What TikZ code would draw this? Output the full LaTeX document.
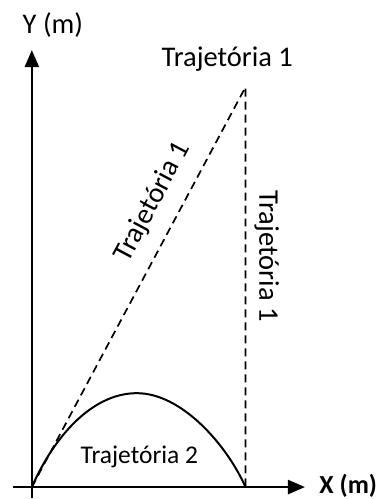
\documentclass[tikz,border=0pt]{standalone}
\usepackage{fontspec}
\setmainfont{Carlito}
\usetikzlibrary{arrows.meta}
\tikzset{
  axisline/.style ={line width=2.4pt,-{Triangle[length=17pt,width=14pt]}},
  traj/.style     ={line width=2pt},
  trajd/.style    ={line width=1.7pt,dash pattern=on 8pt off 5pt},
  lbl/.style      ={font=\fontsize{28.5}{34}\selectfont,inner sep=0pt},
  lbls/.style     ={font=\fontsize{25.5}{30}\selectfont,inner sep=0pt},
}
\begin{document}
\begin{tikzpicture}
  \useasboundingbox (-1.12,-0.42) rectangle (12.55,17.12);
  % points
  \coordinate (o)    at (0,0);
  \coordinate (xs)   at (-0.67,0);
  \coordinate (xe)   at (9.60,0);
  \coordinate (ys)   at (0,-0.39);
  \coordinate (ye)   at (0,15.36);
  \coordinate (top)  at (7.51,14.06);
  \coordinate (foot) at (7.51,0);
  \coordinate (peak) at (3.69,3.30);

  % trajectory 1 (dashed)
  \draw[trajd] (o) -- (top) -- (foot);
  % trajectory 2
  \draw[traj] (o) .. controls (0.77,1.76) and (2.11,3.30) .. (peak)
    .. controls (5.27,3.30) and (6.85,1.48) .. (foot);

  % axes
  \draw[axisline] (xs) -- (xe);
  \draw[axisline] (ys) -- (ye);

  \node[lbl,anchor=base] (ylab) at (0.74,15.95) {Y (m)};
  \node[lbl,anchor=base,font=\fontsize{26}{30}\selectfont\bfseries] (xlab) at (11.12,-0.21) {X (m)};
  \node[lbl,anchor=base] (t1top) at (6.87,14.77) {Trajetória 1};
  \node[lbl,rotate=62]  (t1diag) at (4.25,10.02) {Trajetória 1};
  \node[lbl,rotate=-90] (t1vert) at (8.26,8.12) {Trajetória 1};
  \node[lbls,anchor=base] (t2) at (3.78,0.83) {Trajetória 2};
\end{tikzpicture}
\end{document}
